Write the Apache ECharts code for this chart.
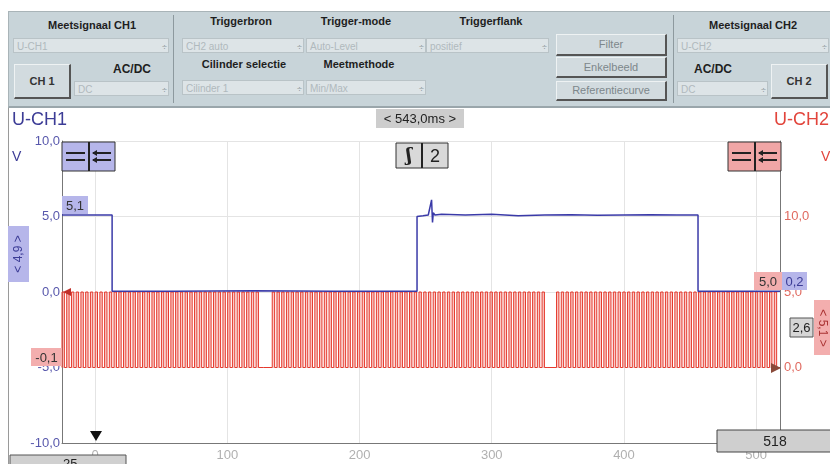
<!DOCTYPE html>
<html lang="nl">
<head>
<meta charset="UTF-8">
<title>Meetsignaal CH1 / CH2</title>
<script src="https://cdn.jsdelivr.net/npm/echarts@6/dist/echarts.min.js"></script>
<style>
    * { margin: 0; padding: 0; }
    body { width: 830px; height: 464px; overflow: hidden; background: #fff; font-family: "Liberation Sans", Arial, sans-serif; position: relative; }
    #chart { position: absolute; left: 0; top: 0; width: 830px; height: 464px; }
    #panel { position: absolute; left: 8px; top: 11px; width: 822px; height: 94px; background: #c8d4d9; border-top: 1px solid #a9b4b8; border-bottom: 2px solid #9aa6ab; border-left: 1px solid #a9b4b8; }
    .lbl { position: absolute; font-weight: bold; font-size: 11px; color: #1e1e1e; text-align: center; white-space: nowrap; }
    .dd { position: absolute; height: 15px; background: #dde4e7; border: 1px solid #b9c3c7; color: #b0b9bd; font-size: 10px; line-height: 15px; padding-left: 3px; box-sizing: border-box; }
    .dd i { position: absolute; right: 1px; top: 1px; font-style: normal; font-size: 9px; color: #8c969a; }
    .btn { position: absolute; background: #d2dbdf; border: 1px solid #eef2f3; border-right: 2px solid #555; border-bottom: 2px solid #555; color: #7d878b; font-size: 11px; text-align: center; box-sizing: border-box; }
    .vsep { position: absolute; top: 3px; width: 1px; height: 88px; background: #8d999e; }
</style>
</head>
<body>
<div id="chart"></div>
<!-- bedieningspaneel -->
<div id="panel">
    <div class="lbl" style="left:30px;top:7px;width:106px;">Meetsignaal CH1</div>
    <div class="dd" style="left:4px;top:26px;width:156px;">U-CH1<i>&#247;</i></div>
    <div class="btn" style="left:5px;top:52px;width:57px;height:35px;line-height:32px;color:#333;font-weight:bold;">CH 1</div>
    <div class="lbl" style="left:100px;top:50px;width:46px;font-size:12px;">AC/DC</div>
    <div class="dd" style="left:65px;top:69px;width:95px;">DC<i>&#247;</i></div>
    <div class="vsep" style="left:164px;"></div>

    <div class="lbl" style="left:192px;top:3px;width:80px;">Triggerbron</div>
    <div class="lbl" style="left:302px;top:3px;width:90px;">Trigger-mode</div>
    <div class="lbl" style="left:442px;top:3px;width:80px;">Triggerflank</div>
    <div class="dd" style="left:173px;top:26px;width:122px;">CH2 auto<i>&#247;</i></div>
    <div class="dd" style="left:297px;top:26px;width:120px;">Auto-Level<i>&#247;</i></div>
    <div class="dd" style="left:417px;top:26px;width:123px;">positief<i>&#247;</i></div>
    <div class="lbl" style="left:180px;top:46px;width:110px;">Cilinder selectie</div>
    <div class="lbl" style="left:305px;top:46px;width:90px;">Meetmethode</div>
    <div class="dd" style="left:173px;top:68px;width:122px;">Cilinder 1<i>&#247;</i></div>
    <div class="dd" style="left:297px;top:68px;width:120px;">Min/Max<i>&#247;</i></div>

    <div class="btn" style="left:547px;top:22px;width:111px;height:22px;line-height:19px;">Filter</div>
    <div class="btn" style="left:547px;top:45px;width:111px;height:21px;line-height:18px;">Enkelbeeld</div>
    <div class="btn" style="left:547px;top:69px;width:111px;height:20px;line-height:17px;">Referentiecurve</div>
    <div class="vsep" style="left:664px;"></div>

    <div class="lbl" style="left:690px;top:7px;width:108px;">Meetsignaal CH2</div>
    <div class="dd" style="left:668px;top:26px;width:152px;">U-CH2<i>&#247;</i></div>
    <div class="lbl" style="left:680px;top:50px;width:48px;font-size:12px;">AC/DC</div>
    <div class="dd" style="left:668px;top:69px;width:91px;">DC<i>&#247;</i></div>
    <div class="btn" style="left:762px;top:52px;width:57px;height:35px;line-height:32px;color:#333;font-weight:bold;">CH 2</div>
</div>
<script>
    // tijdas (ms)
    var timeMin = -25;
    var timeMax = 518;
    var leftTicks = [-10, 10];      // U-CH1 bereik (V)
    var rightTicks = [-5, 15];      // U-CH2 bereik (V)

    // CH1 (blauw): [ms, V]
    var ch1Time = [-25, 12.9, 12.9, 60, 120, 180, 243.5, 243.5, 248, 252, 254.5, 255.2, 255.8, 257, 262, 280, 300, 320, 340, 360, 380, 400, 420, 440, 456, 456, 518];
    var ch1Volt = [5.1, 5.1, 0.05, 0.05, 0.08, 0.05, 0.05, 5.0, 5.05, 5.1, 6.1, 4.6, 5.25, 5.1, 5.15, 5.1, 5.15, 5.05, 5.1, 5.12, 5.08, 5.1, 5.12, 5.1, 5.1, 0.05, 0.05];

    // CH2 (rood): tandsegmenten van de krukassensor [start ms, eind ms], tandperiode, niveaus
    var ch2Segments = [[-25, 127.5], [134, 342.5], [349, 518]];
    var ch2ToothMs = 3.58;
    var ch2Levels = [0, 5.0];

    var ch1Data = ch1Time.map(function (t, i) { return [t, ch1Volt[i]]; });
    var ch2Data = [];
    ch2Segments.forEach(function (seg) {
        var t = seg[0];
        while (t + ch2ToothMs <= seg[1] + 0.01) {
            ch2Data.push([t, ch2Levels[0]], [t, ch2Levels[1]]);
            ch2Data.push([t + ch2ToothMs / 2, ch2Levels[1]], [t + ch2ToothMs / 2, ch2Levels[0]]);
            t += ch2ToothMs;
        }
        ch2Data.push([seg[1], ch2Levels[0]]);
    });
    ch2Data.push([timeMax, ch2Levels[0]]);

    function fmt(v) { return v.toFixed(1).replace('.', ','); }

    var blue = '#3c3c96', red = '#e2453c', lav = '#b6b6ea', pink = '#f3aeae';

    function box(x, y, w, h, fill, text, color, extra) {
        var els = [{
            type: 'rect', z: 100, shape: { x: x, y: y, width: w, height: h },
            style: { fill: fill, stroke: extra && extra.stroke || 'rgba(0,0,0,0)', lineWidth: 1 }
        }];
        if (text) {
            els.push({
                type: 'text', z: 101, x: x + w / 2, y: y + h / 2 + 1,
                style: { text: text, fill: color || '#333', font: (extra && extra.font) || '12px "Liberation Sans"', align: 'center', verticalAlign: 'middle' }
            });
        }
        return els;
    }

    function iconBox(x, fill) {
        var y = 142, els = box(x, y, 53, 29, fill, null, null, { stroke: '#333' });
        els.push({ type: 'line', z: 101, shape: { x1: x + 27, y1: y, x2: x + 27, y2: y + 29 }, style: { stroke: '#222', lineWidth: 2 } });
        [11, 18].forEach(function (dy) {
            els.push({ type: 'line', z: 101, shape: { x1: x + 4, y1: y + dy, x2: x + 23, y2: y + dy }, style: { stroke: '#222', lineWidth: 2 } });
            els.push({ type: 'line', z: 101, shape: { x1: x + 31, y1: y + dy, x2: x + 49, y2: y + dy }, style: { stroke: '#222', lineWidth: 2 } });
            els.push({ type: 'polygon', z: 101, shape: { points: [[x + 30, y + dy], [x + 35, y + dy - 3], [x + 35, y + dy + 3]] }, style: { fill: '#222' } });
        });
        return els;
    }

    var graphics = [].concat(
        [{ type: 'line', z: 100, shape: { x1: 8.5, y1: 106, x2: 8.5, y2: 464 }, style: { stroke: '#9a9a9a', lineWidth: 1 } }],
        [{ type: 'text', z: 101, x: 12, y: 111, style: { text: 'U-CH1', fill: blue, font: '18px "Liberation Sans"' } }],
        [{ type: 'text', z: 101, x: 12, y: 150, style: { text: 'V', fill: blue, font: '14px "Liberation Sans"' } }],
        [{ type: 'text', z: 101, x: 829, y: 111, style: { text: 'U-CH2', fill: red, font: '18px "Liberation Sans"', align: 'right' } }],
        [{ type: 'text', z: 101, x: 821, y: 150, style: { text: 'V', fill: red, font: '14px "Liberation Sans"' } }],
        box(376, 109, 88, 19, '#cdcdcd', '< 543,0ms >', '#222', { font: '13px "Liberation Sans"' }),
        box(396, 143, 52, 25, '#d9d9d9', null, null, { stroke: '#333' }),
        [{ type: 'line', z: 101, shape: { x1: 422, y1: 143, x2: 422, y2: 168 }, style: { stroke: '#222', lineWidth: 2 } }],
        [{ type: 'text', z: 101, x: 409, y: 156, style: { text: '\u0283', fill: '#222', font: 'bold 18px "DejaVu Serif"', align: 'center', verticalAlign: 'middle' } }],
        [{ type: 'text', z: 101, x: 435, y: 157, style: { text: '2', fill: '#222', font: '18px "Liberation Sans"', align: 'center', verticalAlign: 'middle' } }],
        iconBox(62, lav),
        iconBox(728, '#f0a6a6'),
        box(62, 196, 26, 18, lav, '5,1', '#333', { font: '13px "Liberation Sans"' }),
        box(8, 226, 21, 56, lav),
        [{ type: 'text', z: 101, x: 19, y: 254, rotation: Math.PI / 2, style: { text: '< 4,9 >', fill: blue, font: '12px "Liberation Sans"', align: 'center', verticalAlign: 'middle' } }],
        box(31, 348, 31, 18, pink, '-0,1', '#333', { font: '13px "Liberation Sans"' }),
        box(754, 272, 28, 18, pink, '5,0', '#333', { font: '13px "Liberation Sans"' }),
        box(782, 272, 25, 18, lav, '0,2', blue, { font: '13px "Liberation Sans"' }),
        box(790, 318, 23, 19, '#d6d6d6', '2,6', '#222', { font: '13px "Liberation Sans"', stroke: '#555' }),
        box(814, 300, 17, 55, pink),
        [{ type: 'text', z: 101, x: 822, y: 328, rotation: -Math.PI / 2, style: { text: '< 5,1 >', fill: '#a33', font: '12px "Liberation Sans"', align: 'center', verticalAlign: 'middle' } }],
        [{ type: 'polygon', z: 102, shape: { points: [[90, 431], [102, 431], [96, 441]] }, style: { fill: '#111' } }],
        [{ type: 'polygon', z: 102, shape: { points: [[63, 292], [71, 288], [71, 296]] }, style: { fill: '#c0302a' } }],
        [{ type: 'polygon', z: 102, shape: { points: [[781, 368], [771, 363], [771, 373]] }, style: { fill: '#8a4a3a' } }],
        box(10, 455, 116, 16, '#d0d0d0', '-25', '#222', { font: '13px "Liberation Sans"', stroke: '#555' }),
        box(717, 430, 116, 22, '#cfcfcf', '518', '#222', { font: '14px "Liberation Sans"', stroke: '#444' })
    );

    var option = {
        animation: false,
        backgroundColor: '#fff',
        grid: { left: 62, right: 50, top: 141, bottom: 21, containLabel: false },
        xAxis: {
            type: 'value', min: timeMin, max: timeMax, splitNumber: 5,
            axisLine: { onZero: false, lineStyle: { color: '#777' } },
            axisTick: { show: false },
            axisLabel: { color: '#b0b0b0', fontSize: 13, margin: 6, showMinLabel: false, showMaxLabel: false, fontFamily: 'Liberation Sans' },
            splitLine: { lineStyle: { color: '#e4e4e4' } }
        },
        yAxis: [{
            type: 'value', min: leftTicks[0], max: leftTicks[1], interval: 5, position: 'left',
            axisLine: { show: true, onZero: false, lineStyle: { color: '#777' } },
            axisTick: { show: false },
            axisLabel: { color: '#5858ac', fontSize: 13, margin: 2, formatter: fmt, fontFamily: 'Liberation Sans' },
            splitLine: { lineStyle: { color: '#e4e4e4' } }
        }, {
            type: 'value', min: rightTicks[0], max: rightTicks[1], interval: 5, position: 'right',
            axisLine: { show: true, onZero: false, lineStyle: { color: '#777' } },
            axisTick: { show: false },
            axisLabel: {
                color: '#e06a60', fontSize: 13, margin: 4, fontFamily: 'Liberation Sans',
                formatter: function (v) { return (v < 0 || v > 10) ? '' : fmt(v); }
            },
            splitLine: { show: false }
        }],
        series: [{
            name: 'U-CH2', type: 'line', yAxisIndex: 1, data: ch2Data,
            showSymbol: false, sampling: null, z: 2,
            lineStyle: { color: '#e6392d', width: 1 },
            areaStyle: { color: 'rgba(240,120,110,0.55)', origin: 0 }
        }, {
            name: 'U-CH1', type: 'line', yAxisIndex: 0, data: ch1Data,
            showSymbol: false, z: 3,
            lineStyle: { color: '#3a3aa8', width: 1.5 }
        }],
        graphic: graphics
    };

    var myChart = echarts.init(document.getElementById('chart'));
    myChart.setOption(option);
</script>
</body>
</html>
